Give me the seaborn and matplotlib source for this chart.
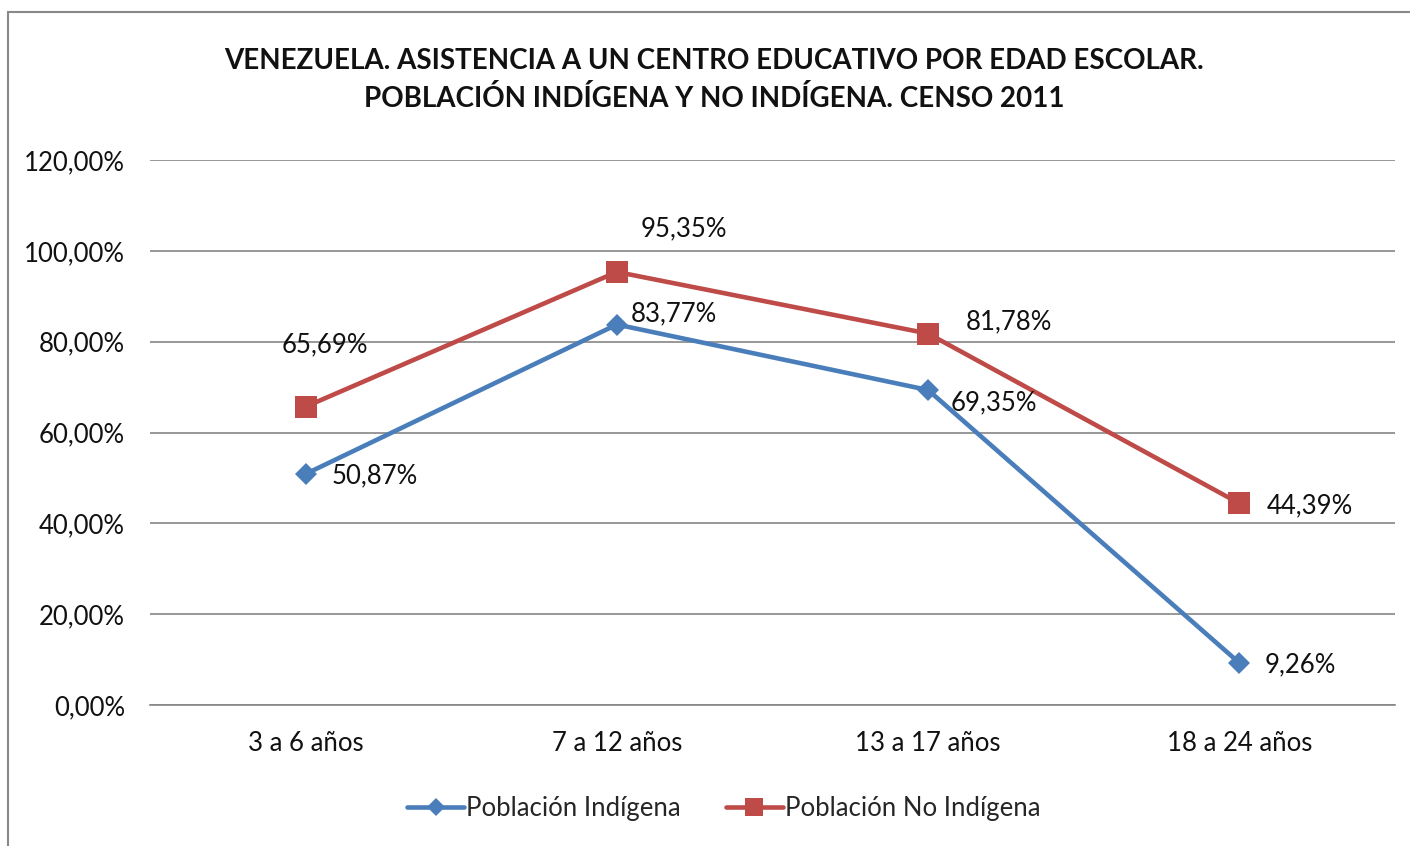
import matplotlib
matplotlib.use("Agg")
import matplotlib.pyplot as plt
import matplotlib.patches as mpatches
from matplotlib.ticker import FuncFormatter, MultipleLocator
from matplotlib import font_manager
import seaborn as sns
import pandas as pd

categories = ["3 a 6 años", "7 a 12 años", "13 a 17 años", "18 a 24 años"]
indigena = [50.87, 83.77, 69.35, 9.26]
no_indigena = [65.69, 95.35, 81.78, 44.39]
series_names = ["Población Indígena", "Población No Indígena"]
title = "VENEZUELA. ASISTENCIA A UN CENTRO EDUCATIVO POR EDAD ESCOLAR.\nPOBLACIÓN INDÍGENA Y NO INDÍGENA. CENSO 2011"

df = pd.DataFrame({
    "cat": categories * 2,
    "x": list(range(len(categories))) * 2,
    "val": indigena + no_indigena,
    "serie": [series_names[0]] * 4 + [series_names[1]] * 4,
})

sns.set_theme(style="white")
avail = {f.name for f in font_manager.fontManager.ttflist}
fam = [f for f in ["Lato", "Open Sans", "DejaVu Sans"] if f in avail]
plt.rcParams["font.family"] = fam

FS = 18.5
colors = {series_names[0]: "#4A7EBB", series_names[1]: "#BE4B48"}
markers = {series_names[0]: "D", series_names[1]: "s"}
msize = {series_names[0]: 11.5, series_names[1]: 15.5}
lsize = {series_names[0]: 9.5, series_names[1]: 12.5}

fig = plt.figure(figsize=(14.1, 8.46), dpi=100)
ax = fig.add_axes([150 / 1410, 1 - 705 / 846, 1245 / 1410, 545 / 846])

sns.lineplot(data=df, x="x", y="val", hue="serie", style="serie", palette=colors,
             markers=markers, dashes=False, linewidth=3.3, ax=ax, legend=False)
for ln, name in zip(ax.lines, series_names):
    ln.set_markersize(msize[name])
    ln.set_markeredgewidth(0)

ax.set_xlim(-0.5, 3.5)
ax.set_ylim(0, 120)
ax.yaxis.set_major_locator(MultipleLocator(20))
ax.yaxis.set_major_formatter(FuncFormatter(lambda v, p: f"{v:.2f}".replace(".", ",") + "%"))
ax.set_xticks(range(4))
ax.set_xticklabels(categories)
ax.set_xlabel("")
ax.set_ylabel("")
ax.grid(axis="y", color="#868686", linewidth=1.2)
ax.set_axisbelow(True)
for s in ["left", "right", "top"]:
    ax.spines[s].set_visible(False)
ax.spines["bottom"].set_color("#868686")
ax.spines["bottom"].set_linewidth(1.2)
ax.tick_params(axis="both", length=0, labelsize=FS, colors="#111111")
ax.tick_params(axis="x", pad=19)
ax.tick_params(axis="y", pad=18)

# data labels (offsets in points)
offs_ind = [(18.5, -1.5), (10, 8), (16.5, -9.4), (18, -1.5)]
offs_no = [(-17, 44.6), (17, 31), (27, 8.6), (19.5, -1.5)]
for i, v in enumerate(indigena):
    ax.annotate(f"{v:.2f}".replace(".", ",") + "%", (i, v), xytext=offs_ind[i],
                textcoords="offset points", ha="left", va="center", fontsize=FS, color="#111111")
for i, v in enumerate(no_indigena):
    ax.annotate(f"{v:.2f}".replace(".", ",") + "%", (i, v), xytext=offs_no[i],
                textcoords="offset points", ha="left", va="center", fontsize=FS, color="#111111")

fig.text(714 / 1410, 1 - 80 / 846, title, ha="center", va="center", fontsize=20,
         fontweight="bold", color="#111111", linespacing=1.5)

handles = [plt.Line2D([], [], color=colors[n], marker=markers[n], linewidth=3.3,
                      markersize=lsize[n], markeredgewidth=0)
           for n in series_names]
fig.legend(handles, series_names, loc="center", bbox_to_anchor=(724 / 1410, 1 - 808 / 846),
           ncol=2, frameon=False, fontsize=FS, handlelength=2.2, handletextpad=0.1,
           columnspacing=1.75)

border = mpatches.Rectangle((8 / 1410, -0.1), 1.2, 1 - 12 / 846 + 0.1, transform=fig.transFigure,
                            fill=False, edgecolor="#888888", linewidth=1.5)
fig.patches.append(border)

fig.savefig("out.png", dpi=100)
